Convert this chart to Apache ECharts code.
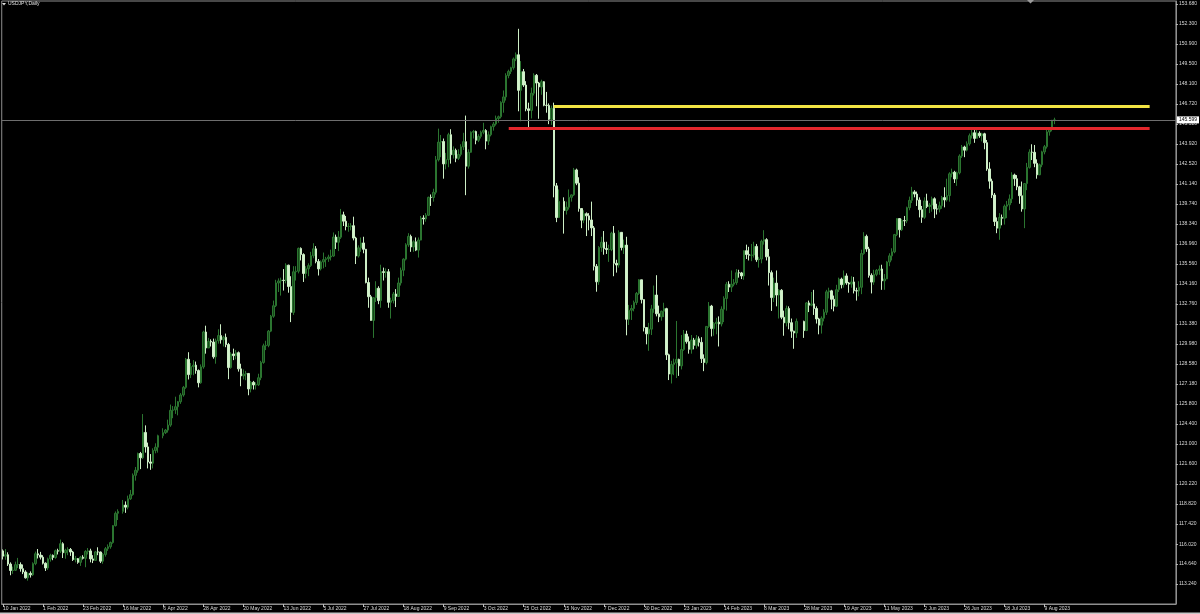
<!DOCTYPE html>
<html><head><meta charset="utf-8">
<script src="https://cdn.jsdelivr.net/npm/echarts@6/dist/echarts.min.js"></script>
<style>html,body{margin:0;padding:0;background:#000;}#c{width:1200px;height:614px;}</style>
</head><body><div id="c"></div>
<script>
// ---------------- DATA ----------------
const chartTitle = 'USDJPY,Daily';
const firstDate = '2022-01-10';
const lastDate = '2023-08-15';
const holidays = ['2022-12-26'];

const xTickDates = ['2022-01-10','2022-02-01','2022-02-23','2022-03-16','2022-04-06','2022-04-28','2022-05-20','2022-06-13','2022-07-05','2022-07-27','2022-08-18','2022-09-09','2022-10-03','2022-10-25','2022-11-15','2022-12-07','2022-12-30','2023-01-23','2023-02-14','2023-03-08','2023-03-28','2023-04-19','2023-05-11','2023-06-02','2023-06-26','2023-07-18','2023-08-09'];
const xTickLabels = ['10 Jan 2022','1 Feb 2022','23 Feb 2022','16 Mar 2022','6 Apr 2022','28 Apr 2022','20 May 2022','13 Jun 2022','5 Jul 2022','27 Jul 2022','18 Aug 2022','9 Sep 2022','3 Oct 2022','25 Oct 2022','15 Nov 2022','7 Dec 2022','30 Dec 2022','23 Jan 2023','14 Feb 2023','8 Mar 2023','28 Mar 2023','19 Apr 2023','11 May 2023','2 Jun 2023','26 Jun 2023','18 Jul 2023','9 Aug 2023'];
const yTickLabels = ['153.680','152.300','150.900','149.500','148.100','146.720','145.320','143.920','142.520','141.140','139.740','138.340','136.960','135.560','134.160','132.760','131.380','129.980','128.580','127.180','125.800','124.400','123.000','121.600','120.220','118.820','117.420','116.020','114.640','113.240'];

const currentPrice = 145.599;
const levelPrices = [146.55, 144.99];          // yellow, red
const levelStartDates = ['2022-11-10', '2022-10-17'];

// daily bars: [open, close, low, high]
const ohlc = [
// Jan 2022
[115.55,115.18,114.95,115.65],[115.18,115.28,114.93,115.68],[115.28,114.63,114.50,115.45],[114.63,114.18,113.85,114.75],[114.18,114.20,113.95,114.45],
[114.20,114.59,114.15,114.80],[114.59,114.60,114.35,115.06],[114.60,114.31,114.10,114.75],[114.31,114.08,113.93,114.60],[114.08,113.67,113.62,114.20],
[113.67,113.98,113.47,114.05],[113.98,113.88,113.69,114.12],[113.88,114.66,113.80,114.75],[114.66,115.35,114.55,115.50],[115.35,115.26,115.02,115.68],
[115.26,115.11,114.95,115.48],
// Feb 2022
[115.11,114.69,114.60,115.25],[114.69,114.36,114.15,114.75],[114.36,114.99,114.22,115.08],[114.99,115.24,114.80,115.35],
[115.24,115.09,114.90,115.30],[115.09,115.56,115.00,115.64],[115.56,115.53,115.30,115.70],[115.53,116.05,115.40,116.34],[116.05,115.42,115.05,116.15],
[115.42,115.60,115.00,115.70],[115.60,115.65,115.25,115.80],[115.65,115.47,115.20,115.75],[115.47,114.94,114.85,115.55],[114.94,115.01,114.75,115.20],
[115.01,114.75,114.65,115.05],[114.75,115.11,114.50,115.20],[115.11,115.03,114.95,115.25],[115.03,115.51,114.41,115.60],[115.51,115.55,115.30,115.75],
[115.55,114.99,114.75,115.70],
// Mar 2022
[114.99,114.89,114.70,115.25],[114.89,115.48,114.85,115.55],[115.48,115.47,115.25,115.80],[115.47,114.83,114.70,115.50],
[114.83,115.30,114.65,115.40],[115.30,115.70,115.15,115.82],[115.70,115.84,115.55,116.00],[115.84,116.13,115.70,116.20],[116.13,117.31,116.05,117.35],
[117.31,118.17,117.25,118.30],[118.17,118.30,117.70,118.45],[118.30,118.74,118.15,119.10],[118.74,118.60,118.20,119.00],[118.60,119.18,118.45,119.40],
[119.18,119.47,119.10,119.80],[119.47,120.82,119.40,120.95],[120.82,121.17,120.45,121.40],[121.17,122.34,121.00,122.40],[122.34,122.04,121.25,122.45],
[122.04,123.81,121.95,125.09],[123.81,122.80,122.40,124.30],[122.80,121.75,121.30,123.10],[121.75,121.66,121.20,122.30],
// Apr 2022
[121.66,122.55,121.30,122.70],
[122.55,122.78,122.35,123.05],[122.78,123.58,122.40,123.65],[123.58,123.79,123.40,124.10],[123.79,123.97,123.70,124.05],[123.97,124.32,123.80,124.70],
[124.32,125.35,124.20,125.75],[125.35,125.38,124.80,125.65],[125.38,125.60,125.10,126.30],[125.60,125.95,125.00,126.00],[125.95,126.42,125.80,126.55],
[126.42,126.95,126.30,127.05],[126.95,128.91,126.85,129.00],[128.91,127.84,127.50,129.40],[127.84,128.40,127.60,128.65],[128.40,128.50,127.80,128.85],
[128.50,128.12,127.90,128.75],[128.12,127.27,126.95,128.20],[127.27,128.38,127.20,128.55],[128.38,130.81,128.25,130.90],[130.81,129.70,129.30,131.25],
// May 2022
[129.70,130.16,129.70,130.40],[130.16,130.11,129.80,130.30],[130.11,129.08,128.95,130.35],[129.08,130.20,128.60,130.35],[130.20,130.56,130.00,131.00],
[130.56,130.27,130.00,131.35],[130.27,130.44,129.80,130.55],[130.44,129.94,129.75,130.70],[129.94,128.33,127.52,130.05],[128.33,129.28,128.25,129.40],
[129.28,129.16,128.85,129.65],[129.16,129.37,128.90,129.55],[129.37,128.24,128.05,129.45],[128.24,127.75,127.03,128.60],[127.75,127.88,127.50,128.20],
[127.88,127.92,127.45,128.10],[127.92,126.84,126.40,127.95],[126.84,127.30,126.60,127.40],[127.30,127.12,126.80,127.40],[127.12,127.13,126.80,127.30],
[127.13,127.62,127.05,127.90],[127.62,128.69,127.45,128.80],
// Jun 2022
[128.69,129.85,128.60,130.00],[129.85,129.88,129.55,130.20],[129.88,130.87,129.75,130.95],
[130.87,131.91,130.80,132.00],[131.91,132.64,131.80,133.00],[132.64,134.23,132.55,134.45],[134.23,134.37,133.60,134.55],[134.37,134.42,133.35,134.60],
[134.42,134.40,133.70,135.20],[134.40,135.47,134.20,135.60],[135.47,133.98,133.55,135.50],[133.98,132.18,131.50,134.70],[132.18,135.01,132.00,135.40],
[135.01,135.05,134.40,135.40],[135.05,136.64,134.90,136.70],[136.64,136.21,135.80,136.71],[136.21,134.89,134.30,136.30],[134.89,135.22,134.55,135.40],
[135.22,135.44,134.70,135.60],[135.44,136.13,135.35,136.40],[136.13,136.61,135.95,137.00],[136.61,135.73,135.60,136.80],
// Jul 2022
[135.73,135.21,134.75,135.90],
[135.21,135.70,135.10,135.80],[135.70,135.86,135.25,136.35],[135.86,135.92,135.35,136.05],[135.92,136.04,135.70,136.20],[136.04,136.11,135.80,136.55],
[136.11,137.43,136.05,137.75],[137.43,137.07,136.60,137.60],[137.07,137.42,136.45,137.85],[137.42,138.98,137.30,139.39],[138.98,138.54,138.20,139.20],
[138.54,138.17,137.90,138.90],[138.17,138.17,137.80,138.40],[138.17,138.22,137.90,138.40],[138.22,137.36,137.20,138.85],[137.36,136.11,135.55,137.45],
[136.11,136.68,136.00,136.85],[136.68,137.02,136.40,137.40],[137.02,136.58,136.30,137.45],[136.58,134.26,134.20,136.60],[134.26,133.27,132.50,134.60],
// Aug 2022
[133.27,131.62,131.60,133.40],[131.62,133.20,130.40,133.25],[133.20,133.86,132.90,134.35],[133.86,133.00,132.75,134.00],[133.00,135.02,132.50,135.50],
[135.02,134.96,134.40,135.30],[134.96,135.01,134.60,135.25],[135.01,132.88,132.50,135.20],[132.88,133.00,131.75,133.20],[133.00,133.46,132.80,133.60],
[133.46,133.29,132.55,133.80],[133.29,134.23,133.25,134.60],[134.23,135.12,134.05,135.30],[135.12,135.89,134.70,135.95],[135.89,136.89,135.80,137.00],
[136.89,137.48,136.75,137.70],[137.48,136.74,136.40,137.60],[136.74,137.10,136.40,137.20],[137.10,136.52,136.45,137.40],[136.52,137.22,136.00,137.40],
[137.22,138.76,137.20,138.90],[138.76,138.70,138.30,138.95],[138.70,138.95,138.50,139.10],
// Sep 2022
[138.95,140.20,138.90,140.25],[140.20,140.19,139.60,140.40],
[140.19,140.55,139.90,140.80],[140.55,142.82,140.40,143.08],[142.82,144.05,142.70,144.99],[144.05,144.09,143.00,144.55],[144.09,142.53,141.50,144.30],
[142.53,142.83,142.15,143.30],[142.83,144.57,142.30,144.70],[144.57,143.17,142.55,144.95],[143.17,143.48,142.90,143.75],[143.48,142.92,142.65,143.60],
[142.92,143.19,142.80,143.55],[143.19,143.72,143.05,143.90],[143.72,144.08,143.50,144.70],[144.08,142.37,140.35,145.90],[142.37,143.34,142.20,143.55],
[143.34,144.74,143.30,144.80],[144.74,144.79,144.30,144.90],[144.79,144.18,143.90,144.85],[144.18,144.45,144.05,144.60],[144.45,144.74,144.30,144.85],
// Oct 2022
[144.74,144.86,144.60,145.40],[144.86,144.12,143.55,144.95],[144.12,144.56,143.85,144.80],[144.56,145.13,144.45,145.20],[145.13,145.31,144.85,145.45],
[145.31,145.70,145.20,145.90],[145.70,145.82,145.40,145.90],[145.82,146.82,145.70,146.90],[146.82,147.20,146.10,147.65],[147.20,148.69,146.95,148.85],
[148.69,148.98,148.50,149.10],[148.98,149.24,148.80,149.30],[149.24,149.85,149.10,149.95],[149.85,150.14,149.70,150.30],[150.14,147.66,146.20,151.95],
[147.66,148.96,145.50,149.70],[148.96,148.03,147.90,149.15],[148.03,146.37,146.20,148.30],[146.37,146.26,145.10,146.80],[146.26,147.46,145.70,147.85],
[147.46,148.71,147.30,148.85],
// Nov 2022
[148.71,148.17,146.55,148.80],[148.17,147.90,145.68,148.25],[147.90,148.26,147.35,148.40],[148.26,146.62,146.55,148.30],
[146.62,146.61,146.10,147.55],[146.61,145.64,145.30,146.75],[145.64,146.41,145.25,146.60],[146.41,141.00,140.20,146.80],[141.00,138.79,138.47,141.20],
[138.79,139.92,138.85,140.75],[139.92,139.28,137.67,140.20],[139.28,139.51,139.00,139.90],[139.51,140.20,139.35,140.75],[140.20,140.37,139.90,140.40],
[140.37,142.11,140.30,142.25],[142.11,141.19,141.05,142.20],[141.19,139.42,139.20,141.60],[139.42,138.61,138.05,139.45],[138.61,139.06,138.40,139.30],
[139.06,138.91,137.50,139.15],[138.91,138.62,137.90,139.10],[138.62,138.07,137.50,139.90],
// Dec 2022
[138.07,135.39,135.10,138.20],[135.39,134.31,133.62,135.55],
[134.31,136.71,134.10,136.80],[136.71,137.07,136.40,137.45],[137.07,136.63,136.20,137.85],[136.63,136.56,136.25,137.10],[136.56,136.56,135.70,136.90],
[136.56,137.70,136.45,137.80],[137.70,135.60,134.70,138.20],[135.60,135.48,134.95,135.85],[135.48,137.76,135.30,137.90],[137.76,136.70,136.50,137.75],
[136.70,136.87,136.25,137.25],[136.87,131.70,130.58,137.45],[131.70,132.33,131.30,132.70],[132.33,132.45,131.65,132.70],[132.45,132.87,132.25,133.00],
[132.87,133.50,132.70,133.60],[133.50,134.45,133.40,134.50],[134.45,133.07,132.80,134.45],[133.07,131.12,130.85,133.10],
// Jan 2023
[131.12,130.68,129.95,131.15],[130.68,131.01,129.50,131.45],[131.01,132.42,130.60,132.70],[132.42,133.39,132.15,134.05],[133.39,132.08,131.90,134.77],
[132.08,131.87,131.50,132.65],[131.87,132.26,131.60,132.30],[132.26,132.44,131.85,132.85],[132.44,129.22,128.86,132.50],[129.22,127.88,127.46,129.30],
[127.88,128.55,127.22,128.80],[128.55,128.66,127.80,128.95],[128.66,128.90,127.60,131.58],[128.90,128.45,127.75,128.95],[128.45,129.59,128.20,130.60],
[129.59,130.67,129.50,130.95],[130.67,130.14,130.00,130.90],[130.14,129.60,129.30,130.50],[129.60,130.25,129.30,130.60],[130.25,129.88,129.60,130.40],
[129.88,130.34,129.65,130.60],[130.34,130.09,129.80,130.50],
// Feb 2023
[130.09,128.95,128.65,130.45],[128.95,128.68,128.08,129.25],[128.68,131.20,128.55,131.20],
[131.20,132.62,131.10,132.90],[132.62,131.05,130.50,132.70],[131.05,131.40,130.55,131.50],[131.40,131.50,130.65,131.80],[131.50,131.37,129.80,131.90],
[131.37,132.40,131.20,132.60],[132.40,133.15,131.50,133.30],[133.15,134.14,132.30,134.30],[134.14,133.94,133.60,134.35],[133.94,134.14,133.60,135.10],
[134.14,134.25,134.00,134.50],[134.25,134.94,134.10,135.20],[134.94,134.93,134.60,135.15],[134.93,134.72,134.50,135.00],[134.72,136.48,134.45,136.50],
[136.48,136.21,135.90,136.90],[136.21,136.16,135.80,136.75],
// Mar 2023
[136.16,136.18,135.75,136.95],[136.18,136.78,136.00,137.10],[136.78,135.85,135.70,136.95],
[135.85,135.90,135.30,136.05],[135.90,137.14,135.60,137.25],[137.14,137.25,136.90,137.91],[137.25,136.05,135.80,137.35],[136.05,134.95,134.05,136.60],
[134.95,133.21,132.28,135.10],[133.21,134.22,132.90,134.60],[134.22,133.39,132.60,135.10],[133.39,133.72,131.75,133.80],[133.72,131.84,131.70,133.80],
[131.84,131.45,130.55,132.30],[131.45,132.45,131.20,132.65],[132.45,131.46,131.00,132.60],[131.46,130.87,130.40,131.75],[130.87,130.74,129.64,130.90],
[130.74,131.55,130.40,131.75],[131.55,130.91,130.40,131.60],[130.91,132.84,130.90,132.90],[132.84,132.68,132.20,133.00],[132.68,132.77,132.60,133.60],
// Apr 2023
[132.77,132.45,132.00,133.75],[132.45,131.72,131.40,132.60],[131.72,131.29,130.65,131.80],[131.29,131.77,130.70,131.90],[131.77,132.19,131.55,132.40],
[132.19,133.61,132.00,133.75],[133.61,133.68,133.15,133.90],[133.68,133.09,132.40,133.75],[133.09,132.61,132.25,133.35],[132.61,133.76,132.55,134.10],
[133.76,134.50,133.60,134.60],[134.50,134.11,133.85,134.60],[134.11,134.72,133.90,135.10],[134.72,134.23,134.10,134.90],[134.23,134.15,133.55,134.30],
[134.15,134.30,133.90,134.70],[134.30,133.69,133.50,134.65],[133.69,133.67,133.00,133.90],[133.67,133.93,133.30,134.35],[133.93,136.28,133.45,136.55],
// May 2023
[136.28,137.48,136.20,137.77],[137.48,136.60,136.40,137.60],[136.60,134.76,134.60,136.75],[134.76,134.29,133.50,134.90],[134.29,134.83,134.10,135.15],
[134.83,135.11,134.70,135.20],[135.11,135.20,134.80,135.45],[135.20,134.38,133.75,135.50],[134.38,134.51,133.75,134.85],[134.51,135.69,134.50,135.75],
[135.69,136.12,135.40,136.30],[136.12,136.40,135.80,136.65],[136.40,137.60,136.30,137.65],[137.60,138.72,137.50,138.75],[138.72,137.94,137.40,138.75],
[137.94,138.58,137.85,138.70],[138.58,138.56,138.20,138.90],[138.56,139.48,138.40,139.55],[139.48,139.99,139.30,140.25],[139.99,140.58,139.80,140.93],
[140.58,140.43,140.20,140.70],[140.43,140.01,139.60,140.60],[140.01,139.34,138.80,140.20],
// Jun 2023
[139.34,138.81,138.42,139.60],[138.81,139.95,138.70,140.20],
[139.95,139.56,139.45,140.45],[139.56,139.66,139.10,139.80],[139.66,140.10,139.20,140.25],[140.10,139.39,138.75,140.20],[139.39,139.38,139.00,139.75],
[139.38,139.61,139.15,139.90],[139.61,140.18,139.40,140.30],[140.18,140.02,139.50,140.90],[140.02,140.32,139.90,141.50],[140.32,141.84,139.90,141.95],
[141.84,141.95,141.60,142.20],[141.95,141.48,141.20,142.05],[141.48,141.91,141.00,142.00],[141.91,143.08,141.80,143.20],[143.08,143.71,142.95,143.85],
[143.71,143.49,143.00,143.80],[143.49,143.93,143.40,144.10],[143.93,144.50,143.80,144.65],[144.50,144.70,144.30,144.90],[144.70,144.31,144.00,145.07],
// Jul 2023
[144.31,144.67,144.30,144.90],[144.67,144.49,144.35,144.80],[144.49,144.63,144.10,144.70],[144.63,144.01,143.55,144.70],[144.01,142.18,142.05,144.20],
[142.18,141.33,140.80,142.65],[141.33,140.36,140.15,141.50],[140.36,138.51,138.20,140.50],[138.51,138.05,137.70,138.80],[138.05,138.80,137.24,139.10],
[138.80,138.74,138.25,139.00],[138.74,139.58,138.30,139.70],[139.58,139.68,138.75,139.95],[139.68,140.09,139.30,140.40],[140.09,141.76,139.80,141.95],
[141.76,141.50,141.00,141.85],[141.50,140.93,140.70,141.75],[140.93,140.31,139.75,141.00],[140.31,139.39,139.20,141.30],[139.39,141.16,138.05,141.20],
[141.16,142.29,140.70,142.60],
// Aug 2023
[142.29,143.35,142.20,143.55],[143.35,143.34,142.80,143.90],[143.34,142.57,142.30,143.85],[142.57,141.77,141.50,142.85],
[141.77,142.47,141.75,142.55],[142.47,143.37,142.30,143.45],[143.37,143.73,143.20,143.85],[143.73,144.76,143.60,144.90],[144.76,144.96,144.50,145.00],
[144.96,145.57,144.80,145.60],[145.57,145.60,145.30,145.75]
];

// ---------------- LAYOUT ----------------
const TICK_STEP = 16;       // bars between date labels
const N_SLOTS = 469;        // bar slots across the plot
const LEVEL_END_SLOT = 458;

// trading days
function isoDay(d){ return d.toISOString().slice(0,10); }
const dates = [];
for (let d = new Date(firstDate + 'T00:00:00Z'); isoDay(d) <= lastDate; d.setUTCDate(d.getUTCDate()+1)) {
  const wd = d.getUTCDay();
  const s = isoDay(d);
  if (wd === 0 || wd === 6 || holidays.includes(s)) continue;
  dates.push(s);
}
if (dates.length !== ohlc.length) console.warn('length mismatch', dates.length, ohlc.length);

// slot of each bar, aligned to the date labels
const slotOf = [];
{
  let k = 0, startJ = 0;
  for (let j = 0; j < dates.length; j++) {
    while (k + 1 < xTickDates.length && dates[j] >= xTickDates[k + 1]) { k++; startJ = j; }
    slotOf.push(k * TICK_STEP + (j - startJ));
  }
}
const slotByDate = {};
dates.forEach((d, j) => slotByDate[d] = slotOf[j]);

const candleData = ohlc.map((r, j) => [slotOf[j], r[0], r[1], r[2], r[3]]);
const categories = Array.from({length: N_SLOTS}, (_, i) => String(i));
const yTickValues = yTickLabels.map(Number);

const isTick = (i) => i % TICK_STEP === 0 && i / TICK_STEP < xTickLabels.length;
const FONT = 'Liberation Sans';
const levelColors = ['#f2e443', '#e3262b'];

const chart = echarts.init(document.getElementById('c'), null, {renderer: 'canvas'});
chart.setOption({
  backgroundColor: '#000000',
  animation: false,
  grid: {left: -3.2, right: 23, top: 1, bottom: 10, show: true, borderColor: '#8f8f8f', borderWidth: 1, backgroundColor: 'transparent'},
  xAxis: {
    type: 'category', data: categories, boundaryGap: true,
    axisLine: {show: true, lineStyle: {color: '#8f8f8f', width: 1}},
    axisTick: {show: true, interval: (i) => isTick(i), alignWithLabel: true, length: 3, lineStyle: {color: '#bbbbbb'}},
    axisLabel: {
      show: true, interval: (i) => isTick(i), align: 'left', margin: 2,
      color: '#d8d8d8', fontSize: 5, fontFamily: FONT,
      formatter: (v) => xTickLabels[Number(v) / TICK_STEP] || ''
    },
    splitLine: {show: false}
  },
  yAxis: {
    type: 'value', position: 'right', min: 111.846, max: 153.889,
    axisLine: {show: true, lineStyle: {color: '#8f8f8f', width: 1}},
    axisTick: {show: true, length: 2, customValues: yTickValues, lineStyle: {color: '#bbbbbb'}},
    axisLabel: {
      show: true, customValues: yTickValues, margin: 3, color: '#d8d8d8', fontSize: 5, fontFamily: FONT,
      formatter: (v) => { const i = yTickValues.findIndex(t => Math.abs(t - v) < 1e-6); return i >= 0 ? yTickLabels[i] : ''; }
    },
    splitLine: {show: false}
  },
  series: [{
    type: 'candlestick',
    data: candleData,
    encode: {x: 0, y: [1, 2, 3, 4]},
    barWidth: 2,
    clip: true,
    itemStyle: {color: '#17471a', color0: '#d4f3cc', borderColor: '#2b7530', borderColor0: '#cdeec6', borderWidth: 1},
    markLine: {
      silent: true, symbol: 'none', animation: false,
      data: [
        {yAxis: currentPrice, lineStyle: {color: '#6e6e6e', width: 1, type: 'solid'},
         label: {show: true, position: 'end', distance: 1, formatter: currentPrice.toFixed(3), backgroundColor: '#ffffff', color: '#000000', fontSize: 5, fontFamily: FONT, padding: [1, 2, 1, 2]}},
        ...levelPrices.map((p, i) => [
          {coord: [String(slotByDate[levelStartDates[i]]), p], lineStyle: {color: levelColors[i], width: 3, type: 'solid'}, label: {show: false}},
          {coord: [String(LEVEL_END_SLOT), p]}
        ])
      ]
    }
  }],
  graphic: [
    {type: 'polygon', shape: {points: [[2, 3], [6, 3], [4, 5.5]]}, style: {fill: '#e0e0e0'}},
    {type: 'text', left: 8, top: 1.5, style: {text: chartTitle, fill: '#e0e0e0', font: '5px "Liberation Sans"'}},
    {type: 'polygon', shape: {points: [[1027, 0], [1034, 0], [1030.5, 3.5]]}, style: {fill: '#9a9a9a'}},
    {type: 'rect', shape: {x: 0, y: 612.5, width: 1200, height: 1.5}, style: {fill: '#c8c8c8'}}
  ]
});
</script>
</body></html>
